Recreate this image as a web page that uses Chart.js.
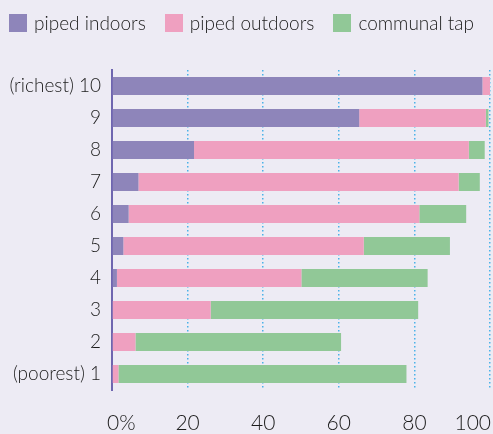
<!DOCTYPE html>
<html>
<head>
<meta charset="utf-8">
<script src="https://cdn.jsdelivr.net/npm/chart.js@4/dist/chart.umd.min.js"></script>
<style>
    html, body { margin: 0; padding: 0; background: #EDEBF4; }
    #wrap { position: relative; width: 493px; height: 434px; }
    #legend { position: absolute; left: 9px; top: 14px; display: flex; white-space: nowrap; font-family: Lato, sans-serif; font-weight: 300; font-size: 19px; color: #1c1c1c; line-height: 18px; }
    .item { display: flex; align-items: center; margin-right: 19px; }
    .box { width: 18px; height: 18px; margin-right: 7px; flex: none; }
</style>
</head>
<body>
<div id="wrap">
    <canvas id="chart" width="493" height="434"></canvas>
    <div id="legend"></div>
</div>
<script>
const categories = ["(richest) 10", "9", "8", "7", "6", "5", "4", "3", "2", "(poorest) 1"];
const pipedIndoors = [98, 65.4, 21.7, 7, 4.4, 3, 1.3, 0, 0, 0];
const pipedOutdoors = [2, 33.5, 72.7, 84.7, 76.9, 63.6, 48.8, 26.1, 6.2, 1.7];
const communalTap = [0, 0.7, 4.2, 5.6, 12.4, 22.8, 33.4, 54.9, 54.4, 76.2];
const xTicks = [0, 20, 40, 60, 80, 100];

const seriesNames = ["piped indoors", "piped outdoors", "communal tap"];
const seriesColors = ["#8E85BA", "#EFA0C0", "#91C897"];

// html legend
const legend = document.getElementById("legend");
seriesNames.forEach(function (name, i) {
    const item = document.createElement("div");
    item.className = "item";
    item.innerHTML = '<span class="box" style="background:' + seriesColors[i] + '"></span><span>' + name + '</span>';
    legend.appendChild(item);
});

// x tick labels drawn by hand so the end ones can hug the edges
const xLabels = {
    id: "xLabels",
    afterDraw(chart) {
        const ctx = chart.ctx;
        const scale = chart.scales.x;
        ctx.save();
        ctx.font = "300 21px Lato, sans-serif";
        ctx.fillStyle = "#1c1c1c";
        ctx.textBaseline = "middle";
        xTicks.forEach(function (v) {
            const px = scale.getPixelForValue(v);
            if (v === 0) {
                ctx.textAlign = "left";
                ctx.fillText("0%", px - 5, 423);
            } else if (v === 100) {
                ctx.textAlign = "right";
                ctx.fillText(String(v), px + 1, 423);
            } else {
                ctx.textAlign = "center";
                ctx.fillText(String(v), px, 423);
            }
        });
        ctx.restore();
    }
};

const data = [pipedIndoors, pipedOutdoors, communalTap];

new Chart(document.getElementById("chart"), {
    type: "bar",
    data: {
        labels: categories,
        datasets: data.map(function (vals, i) {
            return {
                label: seriesNames[i],
                data: vals,
                backgroundColor: seriesColors[i],
                borderWidth: 0,
                categoryPercentage: 1,
                barPercentage: 0.5625
            };
        })
    },
    options: {
        indexAxis: "y",
        responsive: false,
        animation: false,
        layout: { padding: { top: 70, right: 3, left: 0, bottom: 0 } },
        plugins: {
            legend: { display: false },
            tooltip: { enabled: false }
        },
        scales: {
            x: {
                stacked: true,
                min: 0,
                max: 100,
                afterFit: function (scale) { scale.height = 44; },
                ticks: { display: false, stepSize: 20 },
                border: { display: false, dash: [1.5, 2.5] },
                grid: {
                    drawTicks: false,
                    lineWidth: 1.5,
                    color: ctx => ctx.tick && ctx.tick.value === 0 ? "rgba(0,0,0,0)" : "#4AB2E8"
                }
            },
            y: {
                stacked: true,
                afterFit: function (scale) { scale.width = 112; },
                grid: { display: false, drawTicks: false },
                border: { display: true, color: "#6F66B0", width: 2 },
                ticks: {
                    color: "#1c1c1c",
                    padding: 11,
                    font: { family: "Lato, sans-serif", size: 19, weight: 300 }
                }
            }
        }
    },
    plugins: [xLabels]
});
</script>
</body>
</html>
